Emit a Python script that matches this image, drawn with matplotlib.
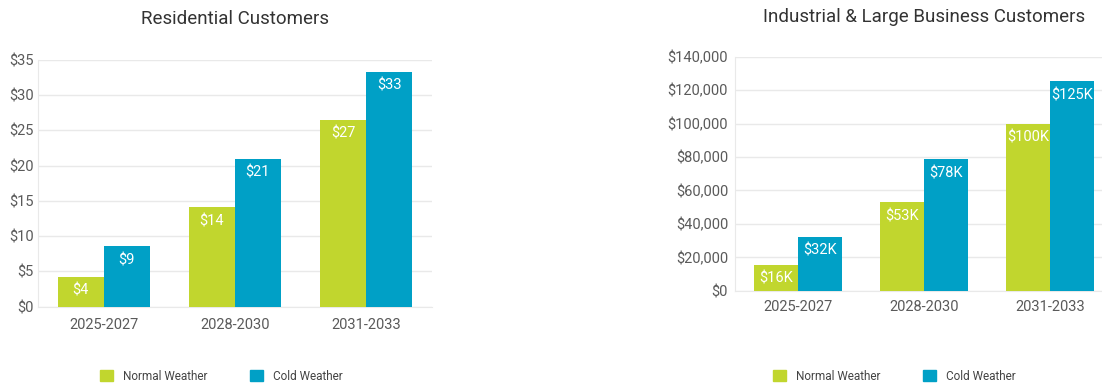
import numpy as np
import matplotlib
matplotlib.use("Agg")
import matplotlib.pyplot as plt
from matplotlib.patches import Patch
from matplotlib.ticker import FuncFormatter

plt.rcParams['font.family'] = ['Roboto', 'DejaVu Sans']

# data
periods = ['2025-2027', '2028-2030', '2031-2033']
res_normal = [4.26, 14.1, 26.5]
res_cold = [8.6, 21.0, 33.3]
res_normal_lbl = ['$4', '$14', '$27']
res_cold_lbl = ['$9', '$21', '$33']
ind_normal = [15500, 53000, 100000]
ind_cold = [32300, 78600, 125400]
ind_normal_lbl = ['$16K', '$53K', '$100K']
ind_cold_lbl = ['$32K', '$78K', '$125K']

GREEN = '#C1D62E'
BLUE = '#00A0C6'
TICK_C = '#5a5a5a'
GRID_C = '#E9E9E9'

fig = plt.figure(figsize=(11.02, 3.83), dpi=100)
W, H = 1102, 383


def make_axes(px_left, px_right, px_top, px_bottom):
    return fig.add_axes([px_left / W, 1 - px_bottom / H,
                         (px_right - px_left) / W, (px_bottom - px_top) / H])


def draw(ax, normal, cold, nlbl, clbl, ymax, step, fmt, title, title_y, xpad, ypad):
    x = np.arange(len(periods))
    w = 0.35
    bn = ax.bar(x - w / 2, normal, w, color=GREEN, zorder=3)
    bc = ax.bar(x + w / 2, cold, w, color=BLUE, zorder=3)
    for bars, lbls in ((bn, nlbl), (bc, clbl)):
        for b, t in zip(bars, lbls):
            ax.annotate(t, (b.get_x() + b.get_width() / 2, b.get_height()),
                        xytext=(0, -14), textcoords='offset pixels',
                        ha='center', va='center', color='white', fontsize=10.5)
    ax.set_xlim(-0.5, 2.5)
    ax.set_ylim(0, ymax)
    ax.set_yticks(np.arange(0, ymax + 1, step))
    ax.yaxis.set_major_formatter(FuncFormatter(fmt))
    ax.set_xticks(x)
    ax.set_xticklabels(periods)
    ax.tick_params(length=0, labelsize=10.5, colors=TICK_C)
    ax.tick_params(axis='x', pad=xpad)
    ax.tick_params(axis='y', pad=ypad)
    ax.grid(axis='y', color=GRID_C, linewidth=1, zorder=0)
    for s in ['top', 'right']:
        ax.spines[s].set_visible(False)
    for s in ['left', 'bottom']:
        ax.spines[s].set_color(GRID_C)
    fig.text(ax.get_position().x0 + ax.get_position().width / 2, 1 - title_y / H,
             title, ha='center', va='center', fontsize=13.5, color='#333333')


ax1 = make_axes(38, 432, 60, 306.7)
draw(ax1, res_normal, res_cold, res_normal_lbl, res_cold_lbl, 35, 5,
     lambda v, p: '${:,.0f}'.format(v), 'Residential Customers', 19, 8, 3)

ax2 = make_axes(735, 1113, 56.7, 290.7)
draw(ax2, ind_normal, ind_cold, ind_normal_lbl, ind_cold_lbl, 140000, 20000,
     lambda v, p: '${:,.0f}'.format(v), 'Industrial & Large Business Customers', 17, 7, 5)

handles = [Patch(color=GREEN, label='Normal Weather'), Patch(color=BLUE, label='Cold Weather')]
for xpx in (100, 773):
    fig.legend(handles=handles, loc='center left', bbox_to_anchor=(xpx / W, 1 - 376 / H),
               ncol=2, frameon=False, fontsize=8.5, borderpad=0, borderaxespad=0,
               handlelength=1.1, handleheight=1.1, handletextpad=0.85,
               columnspacing=3.6, labelcolor='#444444')

fig.savefig('out.png', dpi=100)
